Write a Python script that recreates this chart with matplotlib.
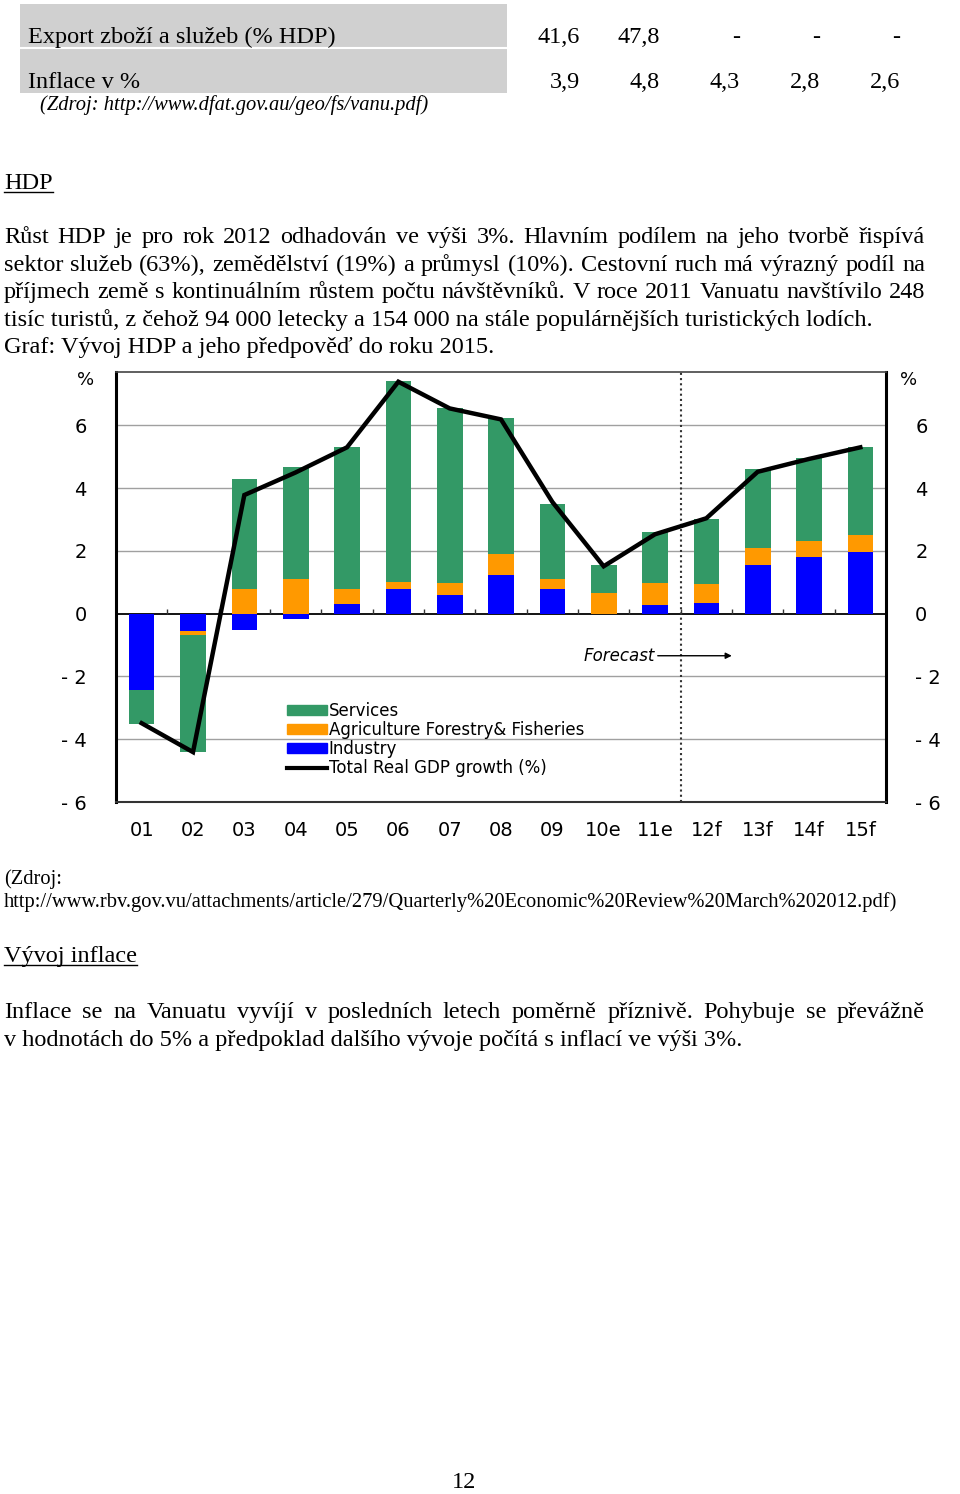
import numpy as np
import matplotlib
matplotlib.use('Agg')
import matplotlib.pyplot as plt
from matplotlib.patches import Rectangle, Patch
from matplotlib.lines import Line2D

# ── Data ──────────────────────────────────────────────────────────────────────
years     = ['01', '02', '03', '04', '05', '06', '07', '08', '09',
             '10e', '11e', '12f', '13f', '14f', '15f']
services  = [-1.10, -3.72, 3.49, 3.56, 4.50, 6.40, 5.57, 4.35, 2.37,
             0.89, 1.61, 2.08, 2.50, 2.65, 2.79]
agri      = [0.00, -0.14, 0.80, 1.10, 0.48, 0.23, 0.40, 0.67, 0.34,
             0.67, 0.71, 0.60, 0.55, 0.51, 0.54]
industry  = [-2.43, -0.55, -0.53, -0.16, 0.32, 0.78, 0.59, 1.22, 0.78,
             0.00, 0.27, 0.34, 1.55, 1.81, 1.97]
gdp_total = [-3.49, -4.41, 3.78, 4.50, 5.30, 7.39, 6.54, 6.19, 3.56,
             1.51, 2.53, 3.04, 4.52, 4.93, 5.30]
yticks    = [-6, -4, -2, 0, 2, 4, 6]
forecast_start = 10.5

table_rows = ['Export zboží a služeb (% HDP)', 'Inflace v %']
table_vals = [['41,6', '47,8', '-', '-', '-'],
              ['3,9', '4,8', '4,3', '2,8', '2,6']]

C_SERV, C_AGRI, C_IND = '#339966', '#FF9900', '#0000FF'

# ── Page helpers ──────────────────────────────────────────────────────────────
W, H = 960, 1494
fig = plt.figure(figsize=(W / 100, H / 100), dpi=100)
fig.patch.set_facecolor('white')
renderer = fig.canvas.get_renderer()

SERIF = 'Liberation Serif'
BODY = 17.5
SMALL = 14.8


def fx(x):
    return x / W


def fy(y):
    return 1 - y / H


def line(x, y, s, size=BODY, justify_to=None, style='normal', underline=False,
         ha='left', va='baseline'):
    if justify_to is None:
        t = fig.text(fx(x), fy(y), s, fontsize=size, family=SERIF, style=style,
                     va=va, ha=ha)
        if underline:
            bb = t.get_window_extent(renderer)
            fig.add_artist(Line2D([fx(bb.x0), fx(bb.x1)], [fy(y + 3)] * 2,
                                  transform=fig.transFigure, color='black', lw=1))
        return
    words = s.split(' ')
    arts = [fig.text(0, fy(y), w, fontsize=size, family=SERIF, style=style,
                     va='baseline') for w in words]
    widths = [a.get_window_extent(renderer).width for a in arts]
    gap = (justify_to - x - sum(widths)) / (len(words) - 1)
    cur = x
    for a, w in zip(arts, widths):
        a.set_x(fx(cur))
        cur += w + gap


# ── Table at top ──────────────────────────────────────────────────────────────
fig.add_artist(Rectangle((fx(20), fy(93)), 487 / W, 89 / H, transform=fig.transFigure,
                         facecolor='#d0d0d0', edgecolor='none'))
fig.add_artist(Line2D([fx(20), fx(507)], [fy(48)] * 2, transform=fig.transFigure,
                      color='white', lw=1.5))
for i, (lab, vals) in enumerate(zip(table_rows, table_vals)):
    yb = 43 + 45 * i
    line(28, yb, lab)
    for j, v in enumerate(vals):
        line(580 + 80 * j, yb, v, ha='right')
line(40, 110, '(Zdroj: http://www.dfat.gov.au/geo/fs/vanu.pdf)', size=SMALL, style='italic')

# ── HDP section text ──────────────────────────────────────────────────────────
line(4, 189, 'HDP', underline=True)
para = ['Růst HDP je pro rok 2012 odhadován ve výši 3%. Hlavním podílem na jeho tvorbě řispívá',
        'sektor služeb (63%), zemědělství (19%) a průmysl (10%). Cestovní ruch má výrazný podíl na',
        'příjmech země s kontinuálním růstem počtu návštěvníků. V roce 2011 Vanuatu navštívilo 248',
        'tisíc turistů, z čehož 94 000 letecky a 154 000 na stále populárnějších turistických lodích.',
        'Graf: Vývoj HDP a jeho předpověď do roku 2015.']
for k, s in enumerate(para):
    line(4, 243 + 27.6 * k, s, justify_to=925 if k < 3 else None)

# ── Chart ─────────────────────────────────────────────────────────────────────
ax = fig.add_axes([116 / W, 1 - 802 / H, 770 / W, 430 / H])
x = np.arange(len(years))
pos_b = np.zeros(len(years))
neg_b = np.zeros(len(years))
for vals, col in [(industry, C_IND), (agri, C_AGRI), (services, C_SERV)]:
    v = np.array(vals)
    pos = np.where(v > 0, v, 0)
    neg = np.where(v < 0, v, 0)
    ax.bar(x, pos, bottom=pos_b, width=0.5, color=col, linewidth=0, zorder=2)
    ax.bar(x, neg, bottom=neg_b, width=0.5, color=col, linewidth=0, zorder=2)
    pos_b += pos
    neg_b += neg

ax.plot(x, gdp_total, color='black', lw=3.2, zorder=4, solid_joinstyle='miter')

for yv in yticks:
    if yv not in (0, -6):
        ax.axhline(yv, color='#a0a0a0', lw=1, zorder=1)
ax.axhline(0, color='black', lw=1.3, zorder=1.5)
ax.vlines(x[:-1] + 0.5, 0, 0.15, color='#333333', lw=1, zorder=1.5)
ax.axvline(forecast_start, color='#333333', lw=1.5, ls=(0, (1, 1.5)), zorder=3)

ax.set_xlim(-0.5, len(years) - 0.5)
ax.set_ylim(-6, 7.7)
ax.set_yticks(yticks)
ax.set_yticklabels([('- ' + str(-t)) if t < 0 else str(t) for t in yticks])
ax.set_xticks(x)
ax.set_xticklabels(years)
ax.tick_params(axis='y', length=0, pad=21, labelsize=14, labelleft=True, labelright=True)
ax.tick_params(axis='x', length=0, pad=14, labelsize=14)
for sp in ['left', 'right']:
    ax.spines[sp].set_linewidth(2.2)
ax.spines['bottom'].set_linewidth(1.5)
ax.spines['bottom'].set_color('#333333')
ax.spines['top'].set_linewidth(1.2)
ax.spines['top'].set_color('#444444')

ax.text(-0.039, 0.981, '%', transform=ax.transAxes, fontsize=13, ha='center', va='center')
ax.text(1.029, 0.981, '%', transform=ax.transAxes, fontsize=13, ha='center', va='center')

ax.text(10.0, -1.34, 'Forecast', fontsize=12, style='italic', ha='right', va='center')
ax.annotate('', xy=(11.55, -1.34), xytext=(10.0, -1.34),
            arrowprops=dict(arrowstyle='-|>', color='black', lw=1, mutation_scale=9))

handles = [Patch(color=C_SERV, label='Services'),
           Patch(color=C_AGRI, label='Agriculture Forestry& Fisheries'),
           Patch(color=C_IND, label='Industry'),
           Line2D([0], [0], color='black', lw=3, label='Total Real GDP growth (%)')]
ax.legend(handles=handles, loc='upper left', bbox_to_anchor=(0.222, 0.232), frameon=False,
          fontsize=12, handlelength=2.4, handleheight=0.55, handletextpad=0.1,
          labelspacing=0.06, borderpad=0, borderaxespad=0)

# ── Source and inflation section ──────────────────────────────────────────────
line(4, 884, '(Zdroj:', size=SMALL)
line(4, 907, 'http://www.rbv.gov.vu/attachments/article/279/Quarterly%20Economic%20Review%20March%202012.pdf)',
     size=SMALL)
line(4, 962, 'Vývoj inflace', underline=True)
line(4, 1018, 'Inflace se na Vanuatu vyvíjí v posledních letech poměrně příznivě. Pohybuje se převážně',
     justify_to=925)
line(4, 1046, 'v hodnotách do 5% a předpoklad dalšího vývoje počítá s inflací ve výši 3%.')
line(464, 1483, '12', ha='center', va='center')

fig.savefig('out.png', dpi=100, facecolor='white')
